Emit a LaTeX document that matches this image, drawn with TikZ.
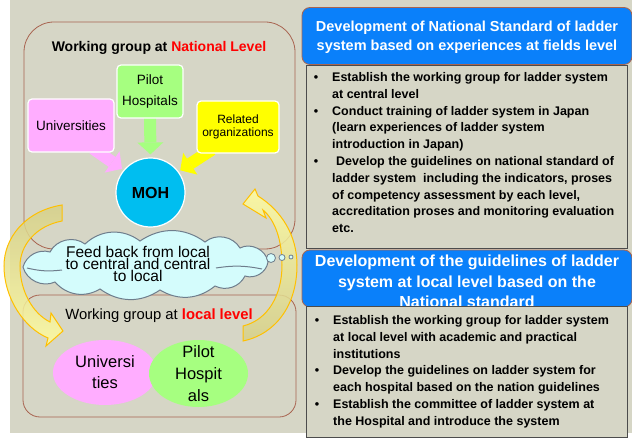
\documentclass[tikz,border=0pt]{standalone}
\usepackage{fontspec}
\setmainfont{Liberation Sans}
\usetikzlibrary{arrows.meta,shapes.geometric}

\definecolor{bgcol}{RGB}{214,214,198}
\definecolor{framecol}{RGB}{168,100,80}
\definecolor{pilotcol}{RGB}{166,255,128}
\definecolor{univcol}{RGB}{255,173,255}
\definecolor{orgcol}{RGB}{255,255,0}
\definecolor{mohcol}{RGB}{0,190,240}
\definecolor{headcol}{RGB}{10,128,250}
\definecolor{cloudcol}{RGB}{212,252,252}
\definecolor{cloudline}{RGB}{110,125,140}
\definecolor{goldcol}{RGB}{255,192,0}
\definecolor{khakicol}{RGB}{214,208,138}
\definecolor{paleyel}{RGB}{255,252,160}

\pgfdeclarelayer{back}
\pgfdeclarelayer{under}
\pgfsetlayers{back,under,main}

\tikzset{
  groupbox/.style={draw=framecol, line width=0.8pt, inner sep=0pt},
  member/.style={draw=white, line width=1.2pt, rounded corners=4pt, inner sep=0pt,
    align=center, font=\fontsize{13.5}{21}\selectfont},
  fatarrow/.style={line width=12pt, -{Triangle[length=12pt,width=26pt,line width=0pt]}},
  headbox/.style={draw=framecol, fill=headcol, rounded corners=8pt, line width=0.8pt,
    inner sep=0pt, minimum width=330pt, minimum height=57pt},
  headtext/.style={text=white, align=center, inner sep=0pt},
  listbox/.style={draw=black!70, fill=bgcol, line width=0.8pt, inner sep=0pt, minimum width=321pt},
  listtext/.style={anchor=base west, align=left, inner sep=0pt,
    font=\bfseries\fontsize{12.5}{16.8}\selectfont},
  bandarrow/.style={draw=goldcol, line width=1pt, fill opacity=0.85},
  bubble/.style={circle, draw=cloudline, fill=cloudcol, line width=0.8pt, inner sep=0pt},
}
\newcommand{\bul}{\llap{\textbullet\hspace{14pt}}}

\begin{document}
\begin{tikzpicture}[x=1pt,y=-1pt]
  \useasboundingbox (0,0) rectangle (632,441);
  \begin{pgfonlayer}{back}
    \fill[white] (0,0) rectangle (632,441);
    \fill[bgcol] (10,0) rectangle (632,433);
    %% the two working groups
    \node[groupbox, rounded corners=30pt, minimum width=271pt, minimum height=227pt] (natbox) at (159.5,135.5) {};
    \node[groupbox, rounded corners=17pt, minimum width=273pt, minimum height=122pt] (locbox) at (159.5,356) {};
  \end{pgfonlayer}

  %% National level
  \node[font=\bfseries\fontsize{14}{16}\selectfont] (nattitle) at (159,47.5) {Working group at \textcolor{red}{National Level}};
  \node[member, fill=pilotcol, minimum width=66pt, minimum height=53pt] (pilot) at (150,91.5) {Pilot\\Hospitals};
  \node[member, fill=univcol, minimum width=86pt, minimum height=53pt] (univ) at (71,125.5) {Universities};
  \node[member, fill=orgcol, minimum width=82pt, minimum height=52pt, font=\fontsize{12}{13.5}\selectfont] (org) at (238,127) {Related\\organizations};
  \node[circle, draw=white, line width=1.2pt, fill=mohcol, minimum size=69pt, inner sep=0pt,
    font=\bfseries\fontsize{16}{18}\selectfont] (moh) at (150.5,192.5) {MOH};
  \coordinate (univtail) at ([xshift=22pt,yshift=4pt]univ.south);
  \coordinate (orgtail) at ([xshift=-26pt,yshift=4pt]org.south);
  \begin{pgfonlayer}{under}
    \draw[fatarrow, draw=pilotcol, fill=pilotcol, shorten >=3pt] ([yshift=4pt]pilot.south) -- (moh.north);
    \draw[fatarrow, draw=univcol, fill=univcol, shorten >=2pt] (univtail) -- (moh.140);
    \draw[fatarrow, draw=orgcol, fill=orgcol, shorten >=2pt] (orgtail) -- (moh.37);
  \end{pgfonlayer}

  %% feedback loop arrows
  \shade[bandarrow, top color=khakicol, bottom color=paleyel]
    (62,205) .. controls (25,211) and (4,238) .. (4,266)
    .. controls (4,298) and (24,328) .. (48,338) -- (46,346) -- (63,331) -- (51,313) -- (50,322)
    .. controls (32,313) and (20,290) .. (20,266)
    .. controls (20,245) and (36,226) .. (62,221) -- cycle;
  \shade[bandarrow, top color=paleyel, bottom color=khakicol]
    (243,341) .. controls (276,334) and (297,305) .. (297,265)
    .. controls (297,236) and (282,211) .. (258,196) -- (255,189) -- (243,204) -- (266,218) -- (263,210)
    .. controls (275,220) and (282,240) .. (282,265)
    .. controls (282,295) and (268,320) .. (243,326) -- cycle;

  %% feedback cloud
  \draw[draw=cloudline, fill=cloudcol, line width=1pt]
    (23,267) to[bend left=45] (50,252) to[bend left=50] (85,244) to[bend left=40] (140,241)
    to[bend left=35] (205,242) to[bend left=50] (240,248) to[bend left=55] (268,262)
    to[bend left=50] (245,276) to[bend left=45] (215,286) to[bend left=35] (160,290)
    to[bend left=35] (100,289) to[bend left=40] (55,282) to[bend left=50] (23,267) -- cycle;
  \draw[draw=cloudline, line width=1pt] (27,268) to[bend right=10] (62,270);
  \draw[draw=cloudline, line width=1pt] (216,268) to[bend left=10] (262,269);
  \node[font=\fontsize{15.5}{11}\selectfont, align=center, inner sep=0pt] (fbtext) at (138,264) {Feed back from local\\to central and central\\to local};
  \node[bubble, minimum size=9pt] (puff1) at (271,258) {};
  \node[bubble, minimum size=6pt] (puff2) at (282,257.5) {};
  \node[bubble, minimum size=4pt] (puff3) at (291,257) {};

  %% Local level
  \node[font=\fontsize{14.8}{16}\selectfont] (loctitle) at (159,316) {Working group at \textcolor{red}{\bfseries local level}};
  \node[ellipse, fill=univcol, minimum width=104pt, minimum height=65pt, inner sep=0pt,
    label={[font=\fontsize{16.5}{21}\selectfont, align=center]center:{Universi\\ties}}] (locuniv) at (105,372.5) {};
  \node[ellipse, fill=pilotcol, minimum width=99pt, minimum height=67pt, inner sep=0pt,
    label={[font=\fontsize{16.5}{22}\selectfont, align=center]center:{Pilot\\Hospit\\als}}] (locpilot) at (198.5,373.5) {};

  %% right column
  \node[headbox] (head1) at (467,36) {};
  \node[headtext, font=\bfseries\fontsize{14.5}{19}\selectfont] (head1text) at (467,37.5) {Development of National Standard of ladder\\system based on experiences at fields level};
  \node[listbox, minimum height=183pt] (list1) at (466.5,156.5) {};
  %% base anchor sits on the last line
  \node[listtext] (items1) at (332,232.7) {\bul Establish the working group for ladder system\\
    at central level\\
    \bul Conduct training of ladder system in Japan\\
    (learn experiences of ladder system\\
    introduction in Japan)\\
    \bul\hspace*{4pt}Develop the guidelines on national standard of\\
    ladder system~ including the indicators, proses\\
    of competency assessment by each level,\\
    accreditation proses and monitoring evaluation\\
    etc.};
  \node[headbox] (head2) at (467,278.5) {};
  \node[headtext, font=\bfseries\fontsize{16}{20.5}\selectfont] (head2text) at (467,281.5) {Development of the guidelines of ladder\\system at local level based on the\\National standard};
  \node[listbox, minimum height=131pt] (list2) at (466.5,371.5) {};
  \node[listtext] (items2) at (333,425.3) {\bul Establish the working group for ladder system\\
    at local level with academic and practical\\
    institutions\\
    \bul Develop the guidelines on ladder system for\\
    each hospital based on the nation guidelines\\
    \bul Establish the committee of ladder system at\\
    the Hospital and introduce the system};
\end{tikzpicture}
\end{document}
